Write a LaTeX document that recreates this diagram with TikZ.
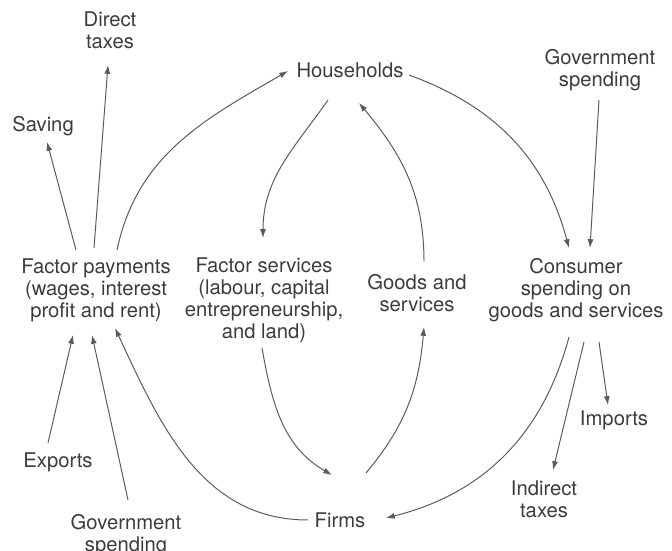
\documentclass[tikz,border=0pt]{standalone}
\usepackage{fontspec}
\setmainfont{TeX Gyre Heros}
\usetikzlibrary{arrows.meta,calc}
\definecolor{cLine}{HTML}{5A5A5A}
\definecolor{cText}{HTML}{3C3C3C}

\begin{document}
\begin{tikzpicture}[x=1cm,y=1cm,>={Latex[length=2.2mm,width=1.5mm]},
  font=\fontsize{14.4}{15.6}\selectfont,
  lbl/.style={align=center,text=cText,inner sep=1pt},
  flow/.style={->,draw=cLine,line width=0.7pt}]
\useasboundingbox (0,0) rectangle (16.8,13.775);
% top row
\node[lbl] (dtax) at (2.75,13.025) {Direct\\ taxes};
\node[lbl] (sav) at (1.075,10.625) {Saving};
\node[lbl] (hh) at (8.75,12.025) {Households};
\node[lbl] (gsT) at (15.0,12.025) {Government\\ spending};
% middle row
\node[lbl] (fp) at (2.4,6.525) {Factor payments\\ (wages, interest\\ profit and rent)};
\node[lbl] (fs) at (6.6,6.275) {Factor services\\ (labour, capital\\ entrepreneurship,\\ and land)};
\node[lbl] (gds) at (10.425,6.45) {Goods and\\ services};
\node[lbl] (cons) at (14.4,6.525) {Consumer\\ spending on\\ goods and services};
% bottom row
\node[lbl] (imp) at (15.35,3.275) {Imports};
\node[lbl] (itax) at (13.6,1.3) {Indirect\\ taxes};
\node[lbl] (firms) at (8.5,0.775) {Firms};
\node[lbl] (exp) at (1.45,2.225) {Exports};
\node[lbl] (gsB) at (3.15,0.4) {Government\\ spending};
% circular flow
\draw[flow] ($(fp)+(0.525,1.0)$) to[out=78,in=210] ($(hh)+(-1.55,-0.025)$);
\draw[flow] ($(hh)+(-0.55,-0.75)$) to[out=235,in=90] ($(fs)+(-0.025,1.55)$);
\draw[flow] ($(gds)+(0.175,0.775)$) to[out=90,in=-50] ($(hh)+(0.225,-0.825)$);
\draw[flow] ($(hh)+(1.475,-0.125)$) to[out=-20,in=105] ($(cons)+(-0.175,1.05)$);
\draw[flow] ($(fs)+(-0.05,-1.2)$) to[out=-80,in=150] ($(firms)+(-0.2,1.125)$);
\draw[flow] ($(firms)+(0.65,1.175)$) to[out=50,in=-95] ($(gds)+(0.175,-0.85)$);
\draw[flow] ($(cons)+(-0.175,-1.175)$) to[out=-105,in=14] ($(firms)+(1.15,0.05)$);
\draw[flow] ($(firms)+(-0.8,0)$) to[out=180,in=-65] ($(fp)+(0.475,-0.95)$);
% injections and withdrawals
\foreach \a/\ax/\ay/\b/\bx/\by in {fp/-0.5/1.0/sav/0.1/-0.4, fp/-0.05/1.05/dtax/-0.05/-0.875,
  gsT/-0.025/-0.75/cons/0.35/1.05, cons/0.2/-1.3/itax/0.225/0.725, cons/0.575/-1.3/imp/-0.15/0.375,
  exp/-0.25/0.475/fp/-0.575/-1.125, gsB/0.05/0.875/fp/-0.1/-1.125}{
  \draw[flow] ($(\a)+(\ax,\ay)$) -- ($(\b)+(\bx,\by)$);}
\end{tikzpicture}
\end{document}
